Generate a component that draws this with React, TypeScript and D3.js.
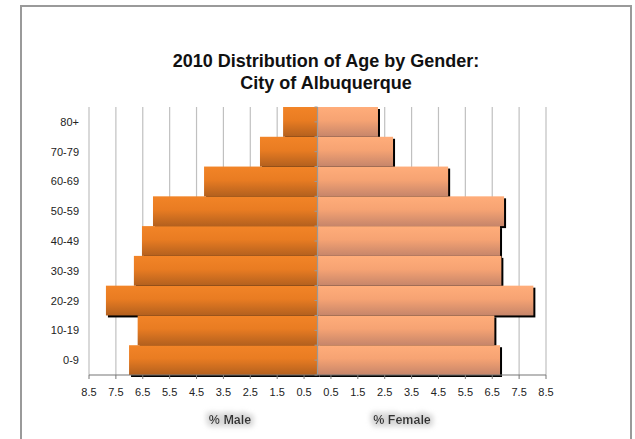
import React from "react";
import * as d3 from "d3";

const categories = ["0-9", "10-19", "20-29", "30-39", "40-49", "50-59", "60-69", "70-79", "80+"];
const maleValues = [7.01, 6.69, 7.87, 6.83, 6.53, 6.12, 4.22, 2.14, 1.28];
const femaleValues = [6.79, 6.58, 8.03, 6.84, 6.79, 6.94, 4.86, 2.81, 2.25];
const tickValues = [-8.5, -7.5, -6.5, -5.5, -4.5, -3.5, -2.5, -1.5, -0.5, 0.5, 1.5, 2.5, 3.5, 4.5, 5.5, 6.5, 7.5, 8.5];
const titleLines = ["2010 Distribution of Age by Gender:", "City of Albuquerque"];
const maleTitle = "% Male";
const femaleTitle = "% Female";

const W = 635;
const H = 439;
const FONT = "'Liberation Sans', Arial, sans-serif";

export default function App() {
  const x = d3.scaleLinear().domain([-8.5, 8.5]).range([89, 546]);
  const y = d3
    .scaleBand<string>()
    .domain([...categories].reverse())
    .range([107, 375])
    .paddingInner(0)
    .paddingOuter(0);
  const bw = y.bandwidth();
  const x0 = x(0);
  const plotTop = 107;
  const plotBottom = 375;

  const halfTicks: number[] = [];
  for (let i = 0; i <= categories.length * 2; i++) halfTicks.push(plotTop + (i * bw) / 2);

  const sd = 2;

  return (
    <svg
      width={W}
      height={H}
      style={{ position: "absolute", left: 0, top: 0, background: "#fff" }}
      fontFamily={FONT}
    >
      <defs>
        <linearGradient id="maleGrad" x1="0" y1="0" x2="0" y2="1">
          <stop offset="0" stopColor="#F28427" />
          <stop offset="0.45" stopColor="#E97C22" />
          <stop offset="1" stopColor="#B3601E" />
        </linearGradient>
        <linearGradient id="femaleGrad" x1="0" y1="0" x2="0" y2="1">
          <stop offset="0" stopColor="#FFAD7A" />
          <stop offset="0.45" stopColor="#F6A373" />
          <stop offset="1" stopColor="#C6856A" />
        </linearGradient>
        <filter id="glow" x="-20%" y="-50%" width="140%" height="200%">
          <feMorphology in="SourceAlpha" operator="dilate" radius="3" result="d" />
          <feGaussianBlur in="d" stdDeviation="2.5" result="b" />
          <feFlood floodColor="#d8d8d8" result="f" />
          <feComposite in="f" in2="b" operator="in" result="g" />
          <feGaussianBlur in="SourceGraphic" stdDeviation="0.45" result="s" />
          <feMerge>
            <feMergeNode in="g" />
            <feMergeNode in="s" />
          </feMerge>
        </filter>
      </defs>

      <rect x={0} y={0} width={W} height={H} fill="#fff" />
      {/* outer frame */}
      <rect x={21} y={6} width={610} height={H + 10} fill="none" stroke="#9a9a9a" strokeWidth={2} />

      {/* title */}
      {titleLines.map((t, i) => (
        <text
          key={t}
          x={326}
          y={67 + i * 22}
          textAnchor="middle"
          fontSize={18}
          fontWeight="bold"
          fill="#111"
        >
          {t}
        </text>
      ))}

      {/* gridlines */}
      {tickValues.map((v) => (
        <line
          key={"g" + v}
          x1={x(v)}
          x2={x(v)}
          y1={plotTop}
          y2={plotBottom}
          stroke="#c0c0c0"
          strokeWidth={1.2}
        />
      ))}

      {/* shadows */}
      {categories.map((c, i) => (
        <g key={"s" + c}>
          <rect x={x(-maleValues[i]) + sd} y={(y(c) as number) + sd} width={x0 - x(-maleValues[i])} height={bw} fill="#000" />
          <rect x={x0 + sd} y={(y(c) as number) + sd} width={x(femaleValues[i]) - x0} height={bw} fill="#000" />
        </g>
      ))}

      {/* bars */}
      {categories.map((c, i) => (
        <g key={"b" + c}>
          <rect x={x(-maleValues[i])} y={y(c) as number} width={x0 - x(-maleValues[i])} height={bw} fill="url(#maleGrad)" />
          <rect x={x0} y={y(c) as number} width={x(femaleValues[i]) - x0} height={bw} fill="url(#femaleGrad)" />
        </g>
      ))}

      {/* center axis */}
      <line x1={x0} x2={x0} y1={plotTop} y2={plotBottom} stroke="#9a9a9a" strokeWidth={1.2} />
      {halfTicks.map((ty, i) => (
        <line key={"ht" + i} x1={x0 - 3} x2={x0} y1={ty} y2={ty} stroke="#9a9a9a" strokeWidth={1} />
      ))}

      {/* category labels */}
      {categories.map((c) => (
        <text
          key={"l" + c}
          x={79}
          y={(y(c) as number) + bw / 2 + 4}
          textAnchor="end"
          fontSize={11}
          fill="#222"
        >
          {c}
        </text>
      ))}

      {/* bottom axis */}
      <line x1={x(-8.5)} x2={x(8.5)} y1={plotBottom} y2={plotBottom} stroke="#777" strokeWidth={1.2} />
      {tickValues.map((v) => (
        <g key={"t" + v}>
          <line x1={x(v)} x2={x(v)} y1={plotBottom} y2={plotBottom + 4} stroke="#777" strokeWidth={1} />
          <text x={x(v)} y={396} textAnchor="middle" fontSize={11} fill="#222">
            {Math.abs(v).toFixed(1)}
          </text>
        </g>
      ))}

      {/* axis titles */}
      <text x={230} y={424} textAnchor="middle" fontSize={12.5} fontWeight="bold" fill="#333" filter="url(#glow)">
        {maleTitle}
      </text>
      <text x={402} y={424} textAnchor="middle" fontSize={12.5} fontWeight="bold" fill="#333" filter="url(#glow)">
        {femaleTitle}
      </text>
    </svg>
  );
}
